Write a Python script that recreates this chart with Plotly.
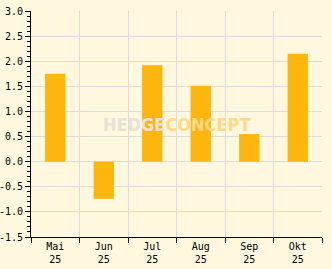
import plotly.graph_objects as go

months = ["Mai<br>25", "Jun<br>25", "Jul<br>25", "Aug<br>25", "Sep<br>25", "Okt<br>25"]
values = [1.75, -0.74, 1.92, 1.51, 0.55, 2.15]
y_ticks = [-1.5, -1.0, -0.5, 0.0, 0.5, 1.0, 1.5, 2.0, 2.5, 3.0]
y_labels = ["-1.5", "-1.0", "-0.5", "0.0", "0.5", "1.0", "1.5", "2.0", "2.5", "3.0"]

bg = "#FFF7DE"
fig = go.Figure()
fig.add_trace(go.Bar(x=months, y=values, marker_color="#FDB60D", marker_line_width=0, width=0.42))

fig.update_layout(
    width=332, height=269,
    margin=dict(l=31, r=10, t=11, b=32, autoexpand=False),
    paper_bgcolor=bg, plot_bgcolor=bg,
    font=dict(family="DejaVu Sans Mono", size=10, color="black"),
    showlegend=False,
)
fig.update_xaxes(
    type="category", tickson="boundaries", showgrid=True, gridcolor="#DCDCDC", gridwidth=1,
    ticks="outside", ticklen=5, tickcolor="black", showline=True, linecolor="black", linewidth=1,
    range=[-0.5, 5.5], zeroline=False, automargin=False,
)
fig.update_yaxes(
    range=[-1.5, 3.0], tickvals=y_ticks, ticktext=y_labels, showgrid=True, gridcolor="#DCDCDC",
    ticks="outside", ticklen=5, tickcolor="black", showline=True, linecolor="black", linewidth=1,
    zeroline=False, automargin=False, ticklabelstandoff=0,
    minor=dict(dtick=0.1, ticks="outside", ticklen=3, tickcolor="black", showgrid=False),
)
fig.add_annotation(x=0.5, y=0.5, xref="paper", yref="paper", showarrow=False,
                   text="<b><span style='color:#E6E2D8'>HEDGE</span><span style='color:#FDD98C'>CONCEPT</span></b>",
                   font=dict(family="DejaVu Sans Condensed", size=18))
fig.write_html("out.html")
